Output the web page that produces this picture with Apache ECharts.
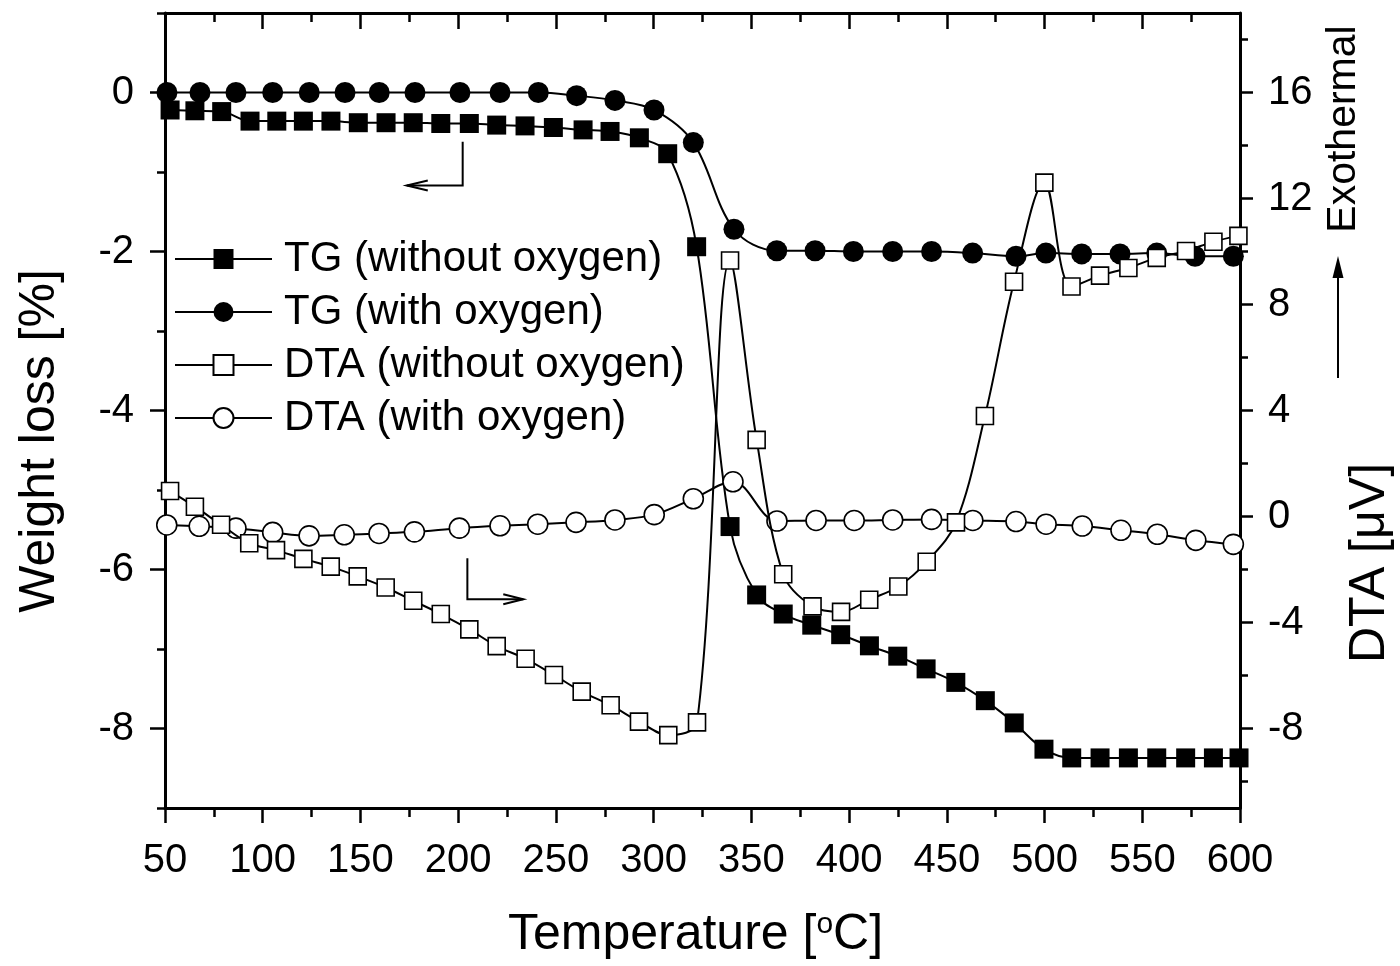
<!DOCTYPE html>
<html>
<head>
<meta charset="utf-8">
<script src="https://cdn.jsdelivr.net/npm/echarts@6/dist/echarts.min.js"></script>
<style>
html,body{margin:0;padding:0;background:#fff;}
#chart{width:1400px;height:966px;}
</style>
</head>
<body>
<div id="chart"></div>
<script>
// ---- data ----
const seriesNames = ['TG (without oxygen)', 'TG (with oxygen)', 'DTA (without oxygen)', 'DTA (with oxygen)'];

const tgWithoutT = [52.6,65.3,79.0,93.5,107.2,120.8,134.9,148.9,163.1,177.0,191.1,205.7,219.7,234.2,248.7,263.9,277.7,292.7,307.2,322.0,339.1,352.7,366.3,380.9,395.7,410.4,424.9,439.4,454.6,469.7,484.5,499.7,513.9,528.4,542.9,557.4,572.2,586.4,599.5];
const tgWithoutW = [-0.22,-0.23,-0.24,-0.36,-0.36,-0.36,-0.36,-0.38,-0.38,-0.38,-0.39,-0.39,-0.41,-0.42,-0.44,-0.47,-0.49,-0.57,-0.77,-1.94,-5.46,-6.32,-6.56,-6.70,-6.82,-6.96,-7.09,-7.25,-7.42,-7.65,-7.93,-8.26,-8.37,-8.37,-8.37,-8.37,-8.37,-8.37,-8.37];

const tgWithT = [51.0,67.9,86.3,105.1,123.8,142.1,159.6,177.9,200.9,221.4,241.0,260.6,280.2,300.2,320.3,341.1,363.0,382.6,402.2,422.3,442.2,463.2,485.4,500.7,519.0,538.6,557.4,577.0,596.6];
const tgWithW = [0,0,0,0,0,0,0,0,0,0,0,-0.04,-0.10,-0.22,-0.63,-1.72,-1.99,-1.99,-2.0,-2.0,-2.0,-2.02,-2.06,-2.02,-2.03,-2.03,-2.02,-2.06,-2.06];

const dtaWithoutT = [52.6,65.3,78.7,93.1,106.8,120.8,134.8,148.6,162.9,177.0,191.1,205.7,219.7,234.5,249.0,263.2,278.0,292.5,307.5,322.2,339.1,352.7,366.3,381.3,395.9,410.3,425.2,439.7,454.7,469.5,484.4,499.9,513.8,528.4,542.9,557.4,572.4,586.4,599.2];
const dtaWithoutV = [0.96,0.37,-0.31,-1.01,-1.27,-1.60,-1.89,-2.26,-2.68,-3.18,-3.68,-4.26,-4.89,-5.37,-5.98,-6.61,-7.12,-7.74,-8.25,-7.77,9.66,2.89,-2.18,-3.39,-3.60,-3.14,-2.64,-1.71,-0.22,3.79,8.86,12.60,8.68,9.09,9.38,9.76,10.02,10.37,10.59];

const dtaWithT = [50.9,67.5,86.3,105.1,123.7,141.7,159.5,177.6,200.6,221.4,240.7,260.3,280.2,300.3,320.3,340.6,363.1,383.1,402.6,422.3,442.2,463.3,485.4,500.8,519.3,539.1,557.7,577.4,596.6];
const dtaWithV = [-0.32,-0.37,-0.44,-0.60,-0.73,-0.69,-0.64,-0.58,-0.44,-0.35,-0.29,-0.22,-0.13,0.07,0.67,1.31,-0.17,-0.15,-0.15,-0.13,-0.11,-0.15,-0.19,-0.29,-0.36,-0.52,-0.67,-0.90,-1.05];

// axis ticks
const xMajor = 50, xMin = 50, xMax = 600;
const leftMin = -9, leftMax = 1;
const leftLabels = [-8,-6,-4,-2,0];
const leftMinor = [-9,-7,-5,-3,-1,1];
const rightMin = -11, rightMax = 19;
const rightLabels = [-8,-4,0,4,8,12,16];
const rightMinor = [-10,-6,-2,2,6,10,14,18];

const FONT = 'Liberation Sans, Arial, sans-serif';
const zip = (a, b) => a.map((v, i) => [v, b[i]]);

const chart = echarts.init(document.getElementById('chart'), null, {renderer: 'canvas'});

const axisLineStyle = {color: '#000', width: 3};
const tickStyle = {color: '#000', width: 2.5};

const option = {
  animation: false,
  backgroundColor: '#fff',
  textStyle: {fontFamily: FONT, color: '#000'},
  grid: {left: 165, right: 160, top: 13, bottom: 158, containLabel: false},
  legend: {
    orient: 'vertical', left: 174, top: 238, padding: 0,
    itemWidth: 97, itemHeight: 25, itemGap: 11,
    data: seriesNames,
    textStyle: {fontSize: 42, color: '#000', fontFamily: FONT, padding: [0, 0, 0, 7]},
    selectedMode: false
  },
  xAxis: [
    {
      type: 'value', position: 'bottom', min: xMin, max: xMax, interval: xMajor,
      axisLine: {show: true, onZero: false, lineStyle: axisLineStyle},
      axisTick: {show: true, length: 15, lineStyle: tickStyle},
      minorTick: {show: true, splitNumber: 2, length: 9, lineStyle: tickStyle},
      axisLabel: {fontSize: 40, color: '#000', margin: 33, fontFamily: FONT},
      splitLine: {show: false}, minorSplitLine: {show: false},
      name: 'Temperature [{sup|o}C]', nameLocation: 'middle', nameGap: 102,
      nameTextStyle: {fontSize: 50, color: '#000', fontFamily: FONT, padding: [0, 14, 0, 0],
        rich: {sup: {fontSize: 30, color: '#000', fontFamily: FONT, verticalAlign: 'top', lineHeight: 50}}}
    },
    {
      type: 'value', position: 'top', min: xMin, max: xMax, interval: xMajor,
      axisLine: {show: true, onZero: false, lineStyle: axisLineStyle},
      axisTick: {show: true, inside: true, length: 16, lineStyle: tickStyle},
      minorTick: {show: true, splitNumber: 2, length: 9, lineStyle: tickStyle},
      axisLabel: {show: false},
      splitLine: {show: false}, minorSplitLine: {show: false}
    }
  ],
  yAxis: [
    {
      type: 'value', position: 'left', min: leftMin, max: leftMax,
      axisLine: {show: true, onZero: false, lineStyle: axisLineStyle},
      axisTick: {show: true, length: 15, lineStyle: tickStyle, customValues: leftLabels},
      axisLabel: {fontSize: 40, color: '#000', margin: 31, fontFamily: FONT, customValues: leftLabels},
      splitLine: {show: false}
    },
    {
      type: 'value', position: 'left', min: leftMin, max: leftMax,
      axisLine: {show: false, onZero: false},
      axisTick: {show: true, length: 8, lineStyle: tickStyle, customValues: leftMinor},
      axisLabel: {show: false},
      splitLine: {show: false}
    },
    {
      type: 'value', position: 'right', min: rightMin, max: rightMax,
      axisLine: {show: true, onZero: false, lineStyle: axisLineStyle},
      axisTick: {show: true, length: 13, lineStyle: tickStyle, customValues: rightLabels},
      axisLabel: {fontSize: 40, color: '#000', margin: 28, fontFamily: FONT, customValues: rightLabels},
      splitLine: {show: false}
    },
    {
      type: 'value', position: 'right', min: rightMin, max: rightMax,
      axisLine: {show: false, onZero: false},
      axisTick: {show: true, length: 8, lineStyle: tickStyle, customValues: rightMinor},
      axisLabel: {show: false},
      splitLine: {show: false}
    }
  ],
  series: [
    {
      name: seriesNames[0], type: 'line', xAxisIndex: 0, yAxisIndex: 0,
      data: zip(tgWithoutT, tgWithoutW), smooth: 0.35, symbol: 'rect', symbolSize: 19,
      lineStyle: {color: '#000', width: 2}, itemStyle: {color: '#000', borderColor: '#000', borderWidth: 0},
      z: 2
    },
    {
      name: seriesNames[1], type: 'line', xAxisIndex: 0, yAxisIndex: 0,
      data: zip(tgWithT, tgWithW), smooth: 0.35, symbol: 'circle', symbolSize: 21,
      lineStyle: {color: '#000', width: 2}, itemStyle: {color: '#000', borderColor: '#000', borderWidth: 0},
      z: 2
    },
    {
      name: seriesNames[2], type: 'line', xAxisIndex: 0, yAxisIndex: 2,
      data: zip(dtaWithoutT, dtaWithoutV), smooth: 0.35, symbol: 'rect', symbolSize: 17,
      lineStyle: {color: '#000', width: 2}, itemStyle: {color: '#fff', borderColor: '#000', borderWidth: 1.6},
      z: 4
    },
    {
      name: seriesNames[3], type: 'line', xAxisIndex: 0, yAxisIndex: 2,
      data: zip(dtaWithT, dtaWithV), smooth: 0.35, symbol: 'circle', symbolSize: 20,
      lineStyle: {color: '#000', width: 2}, itemStyle: {color: '#fff', borderColor: '#000', borderWidth: 1.6},
      z: 3
    }
  ]
};
chart.setOption(option);

// annotations (arrows, side titles) positioned through the axes
function px(axisY, x, y) { return chart.convertToPixel({xAxisIndex: 0, yAxisIndex: axisY}, [x, y]); }
const la1 = px(0, 202.3, -0.62), la2 = px(0, 202.3, -1.17), la3 = px(0, 173.7, -1.17);
const ra1 = px(2, 204.7, -1.58), ra2 = px(2, 204.7, -3.12), ra3 = px(2, 233.3, -3.12);
const arrowStyle = {stroke: '#000', lineWidth: 2, fill: null};

chart.setOption({
  graphic: [
    {type: 'polyline', shape: {points: [la1, la2, la3]}, style: arrowStyle, z: 10},
    {type: 'polyline', shape: {points: [[la3[0] + 21, la3[1] - 5], la3, [la3[0] + 21, la3[1] + 5]]}, style: arrowStyle, z: 10},
    {type: 'polyline', shape: {points: [ra1, ra2, ra3]}, style: arrowStyle, z: 10},
    {type: 'polyline', shape: {points: [[ra3[0] - 20, ra3[1] - 5], ra3, [ra3[0] - 20, ra3[1] + 5]]}, style: arrowStyle, z: 10},
    {type: 'text', x: 40, y: 441, rotation: Math.PI / 2,
      style: {text: 'Weight loss [%]', font: '50px ' + FONT, fill: '#000', align: 'center', verticalAlign: 'middle'}},
    {type: 'text', x: 1370, y: 563, rotation: Math.PI / 2,
      style: {text: 'DTA [\u03BCV]', font: '50px ' + FONT, fill: '#000', align: 'center', verticalAlign: 'middle'}},
    {type: 'text', x: 1344, y: 129, rotation: Math.PI / 2,
      style: {text: 'Exothermal', font: '41px ' + FONT, fill: '#000', align: 'center', verticalAlign: 'middle'}},
    {type: 'line', shape: {x1: 1338, y1: 378, x2: 1338, y2: 270}, style: {stroke: '#000', lineWidth: 2}},
    {type: 'polygon', shape: {points: [[1338, 256], [1332.5, 278], [1343.5, 278]]}, style: {fill: '#000', stroke: null}}
  ]
});
</script>
</body>
</html>
